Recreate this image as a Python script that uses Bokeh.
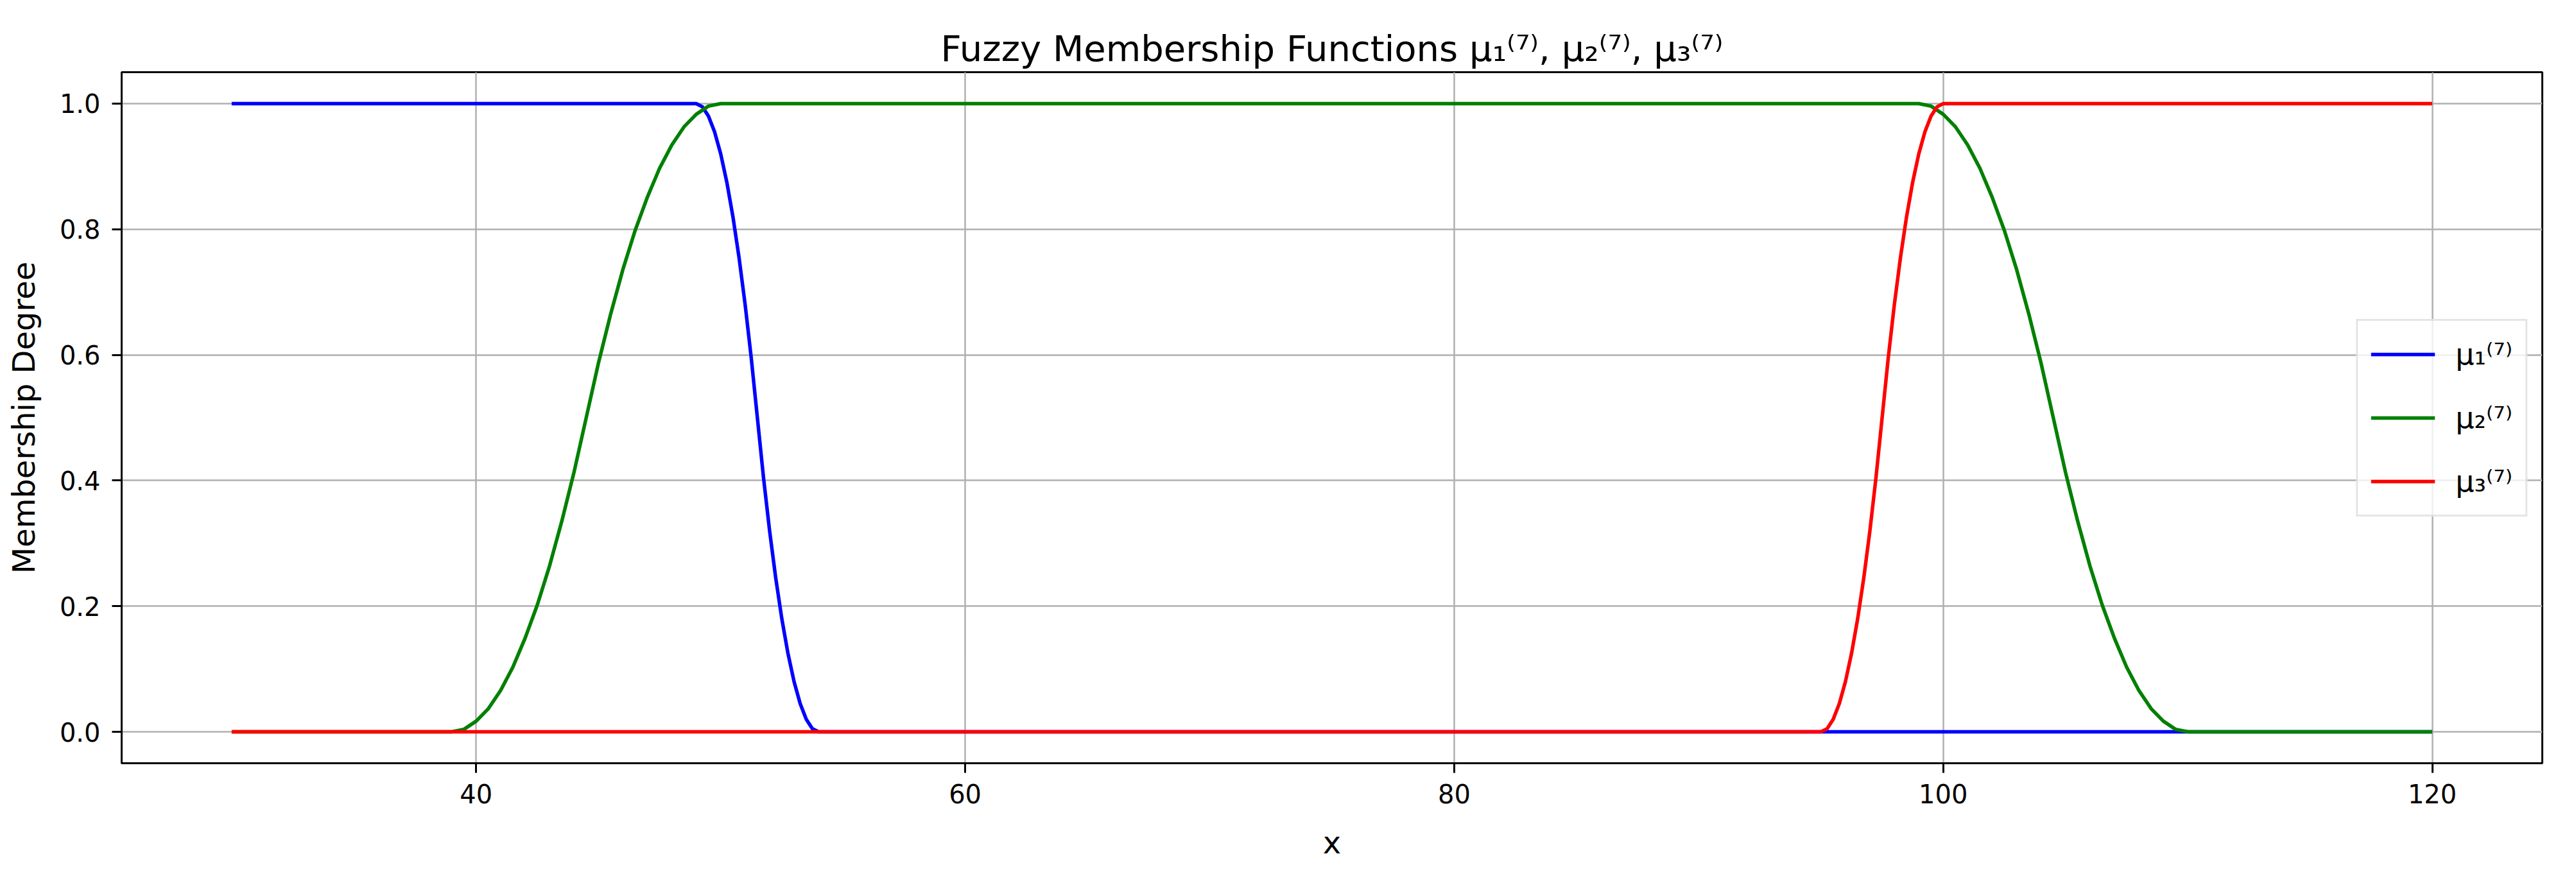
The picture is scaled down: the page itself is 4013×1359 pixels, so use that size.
from bokeh.plotting import figure
from bokeh.models import Range1d, FixedTicker, PrintfTickFormatter, Legend, LegendItem, ColumnDataSource
from bokeh.embed import file_html
from bokeh.resources import INLINE

# ---------------- data ----------------
TITLE = "Fuzzy Membership Functions μ₁⁽⁷⁾, μ₂⁽⁷⁾, μ₃⁽⁷⁾"
X_LABEL = "x"
Y_LABEL = "Membership Degree"
X_TICKS = [40, 60, 80, 100, 120]
Y_TICKS = [0.0, 0.2, 0.4, 0.6, 0.8, 1.0]
X_LIMITS = [25.5, 124.5]
Y_LIMITS = [-0.05, 1.05]

SERIES_NAMES = ["μ₁⁽⁷⁾", "μ₂⁽⁷⁾", "μ₃⁽⁷⁾"]
SERIES_COLORS = ["#0000ff", "#008000", "#ff0000"]

# mu1: flat at 1, drops between ~49 and ~54
mu1_x = [30, 49, 49.25, 49.5, 49.75, 50, 50.25, 50.5, 50.75, 51, 51.25, 51.5,
         51.75, 52, 52.25, 52.5, 52.75, 53, 53.25, 53.5, 53.75, 54, 120]
mu1_y = [1, 1, 0.995, 0.98, 0.955, 0.92, 0.875, 0.82, 0.755, 0.68, 0.595, 0.5,
         0.405, 0.32, 0.245, 0.18, 0.125, 0.08, 0.045, 0.02, 0.005, 0, 0]

# mu2: rises between ~39 and ~50, flat at 1, falls between ~99 and ~110
mu2_x = [30,
         39, 39.5, 40, 40.5, 41, 41.5, 42, 42.5, 43, 43.5, 44, 44.5,
         45, 45.5, 46, 46.5, 47, 47.5, 48, 48.5, 49, 49.5, 50,
         99, 99.5, 100, 100.5, 101, 101.5, 102, 102.5, 103, 103.5, 104, 104.5,
         105, 105.5, 106, 106.5, 107, 107.5, 108, 108.5, 109, 109.5, 110,
         120]
mu2_y = [0,
         0, 0.004, 0.017, 0.037, 0.066, 0.103, 0.149, 0.202, 0.264, 0.335, 0.413, 0.5,
         0.587, 0.665, 0.736, 0.798, 0.851, 0.897, 0.934, 0.963, 0.983, 0.996, 1,
         1, 0.996, 0.983, 0.963, 0.934, 0.897, 0.851, 0.798, 0.736, 0.665, 0.587, 0.5,
         0.413, 0.335, 0.264, 0.202, 0.149, 0.103, 0.066, 0.037, 0.017, 0.004, 0,
         0]

# mu3: flat at 0, rises between ~95 and ~100, flat at 1
mu3_x = [30, 95, 95.25, 95.5, 95.75, 96, 96.25, 96.5, 96.75, 97, 97.25, 97.5,
         97.75, 98, 98.25, 98.5, 98.75, 99, 99.25, 99.5, 99.75, 100, 120]
mu3_y = [0, 0, 0.005, 0.02, 0.045, 0.08, 0.125, 0.18, 0.245, 0.32, 0.405, 0.5,
         0.595, 0.68, 0.755, 0.82, 0.875, 0.92, 0.955, 0.98, 0.995, 1, 1]

SERIES_X = [mu1_x, mu2_x, mu3_x]
SERIES_Y = [mu1_y, mu2_y, mu3_y]

FONT = "DejaVu Sans"

# ---------------- figure ----------------
p = figure(
    width=3997, height=1343,
    x_range=Range1d(*X_LIMITS), y_range=Range1d(*Y_LIMITS),
    output_backend="svg", toolbar_location=None,
    min_border_left=189, min_border_right=37,
    min_border_top=112, min_border_bottom=152,
)
p.background_fill_color = "white"
p.border_fill_color = "white"
p.outline_line_color = "black"
p.outline_line_width = 3
p.outline_line_alpha = 1.0

p.title.text = TITLE
p.title.text_font = FONT
p.title.text_font_size = "56px"
p.title.text_font_style = "normal"
p.title.text_color = "black"
p.title.align = "center"

# axes
for ax in (p.xaxis[0], p.yaxis[0]):
    ax.axis_line_color = "black"
    ax.axis_line_width = 3
    ax.major_tick_line_color = "black"
    ax.major_tick_line_width = 3
    ax.major_tick_out = 15
    ax.major_tick_in = 0
    ax.minor_tick_line_color = None
    ax.major_label_text_font = FONT
    ax.major_label_text_font_size = "40px"
    ax.major_label_text_color = "black"
    ax.axis_label_text_font = FONT
    ax.axis_label_text_font_size = "48px"
    ax.axis_label_text_font_style = "normal"
    ax.axis_label_text_color = "black"

p.xaxis.ticker = FixedTicker(ticks=X_TICKS)
p.yaxis.ticker = FixedTicker(ticks=Y_TICKS)
p.yaxis.formatter = PrintfTickFormatter(format="%.1f")
p.xaxis.axis_label = X_LABEL
p.yaxis.axis_label = Y_LABEL
p.xaxis.major_label_standoff = 17
p.yaxis.major_label_standoff = 18
p.xaxis.axis_label_standoff = 30
p.yaxis.axis_label_standoff = 25

# grid
for g in (p.xgrid[0], p.ygrid[0]):
    g.grid_line_color = "#b0b0b0"
    g.grid_line_width = 2.5
    g.grid_line_alpha = 1.0

# lines
items = []
for name, color, xs, ys in zip(SERIES_NAMES, SERIES_COLORS, SERIES_X, SERIES_Y):
    src = ColumnDataSource(dict(x=xs, y=ys))
    r = p.line("x", "y", source=src, line_color=color, line_width=5.5,
               line_join="round", line_cap="butt")
    items.append(LegendItem(label=name, renderers=[r]))

legend = Legend(items=items, location="center_right")
legend.label_text_font = FONT
legend.label_text_font_size = "46px"
legend.label_text_color = "black"
legend.glyph_width = 100
legend.glyph_height = 64
legend.spacing = 35
legend.padding = 20
legend.margin = 23
legend.label_standoff = 32
legend.border_line_color = "#cccccc"
legend.border_line_width = 3
legend.background_fill_color = "white"
legend.background_fill_alpha = 0.8
p.add_layout(legend)

open("out.html", "w").write(file_html(p, INLINE))
